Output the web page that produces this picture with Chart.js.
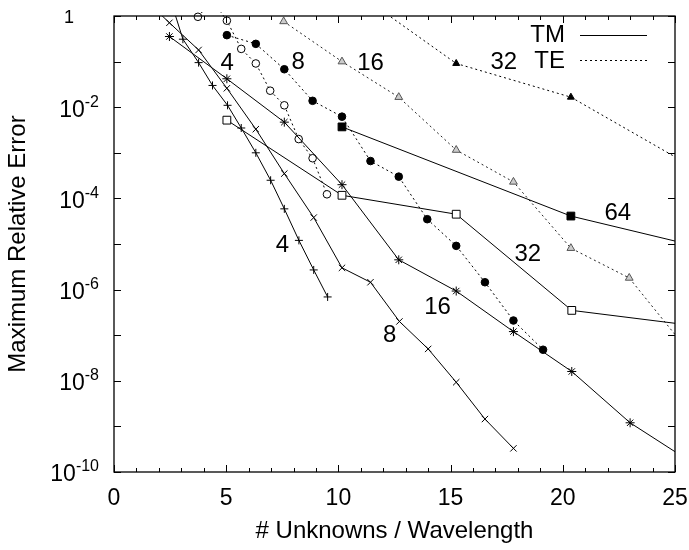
<!DOCTYPE html>
<html>
<head>
<meta charset="utf-8">
<title>Maximum relative error vs unknowns per wavelength</title>
<script src="https://cdn.jsdelivr.net/npm/chart.js@4.4.1/dist/chart.umd.min.js"></script>
<style>
  body { margin: 0; background: #fff; }
  #wrap { position: relative; width: 689px; height: 550px; }
</style>
</head>
<body>
<div id="wrap"><canvas id="chart"></canvas></div>
<script>
// TM curves (solid lines)
const tm4X = [2.44, 3.07, 3.77, 4.39, 5.06, 5.67, 6.32, 6.98, 7.59, 8.24, 8.90, 9.52];
const tm4Y = [3.0, 0.31, 0.095, 0.030, 0.011, 3.5e-3, 1.0e-3, 2.5e-4, 5.9e-5, 1.2e-5, 2.7e-6, 6.9e-7];

const tm8X = [1.20, 2.47, 3.77, 5.03, 6.32, 7.59, 8.90, 10.16, 11.43, 12.72, 14.00, 15.25, 16.53, 17.80];
const tm8Y = [2.8, 0.71, 0.18, 0.026, 3.3e-3, 3.5e-4, 3.8e-5, 3.0e-6, 1.45e-6, 2.0e-7, 5.0e-8, 9.3e-9, 1.45e-9, 3.3e-10];

const tm16X = [2.47, 5.03, 7.59, 10.16, 12.69, 15.25, 17.80, 20.40, 23.00, 25.60];
const tm16Y = [0.355, 0.042, 4.7e-3, 2.0e-4, 4.5e-6, 9.3e-7, 1.2e-7, 1.6e-8, 1.2e-9, 1.8e-10];

const tm32X = [5.03, 10.16, 15.25, 20.40, 25.50];
const tm32Y = [5.2e-3, 1.17e-4, 4.5e-5, 3.5e-7, 1.7e-7];

const tm64X = [10.16, 20.36, 30.50];
const tm64Y = [3.7e-3, 4.1e-5, 2.6e-6];

// TE curves (dotted lines)
const te4X = [3.74, 4.39, 5.03, 5.67, 6.32, 6.96, 7.59, 8.23, 8.85, 9.49];
const te4Y = [0.96, 2.2, 0.79, 0.19, 0.091, 0.023, 0.011, 2.0e-3, 7.6e-4, 1.23e-4];

const te8X = [5.03, 6.32, 7.59, 8.85, 10.16, 11.43, 12.69, 13.96, 15.25, 16.53, 17.80, 19.12];
const te8Y = [0.38, 0.245, 0.068, 0.0138, 6.2e-3, 6.6e-4, 3.0e-4, 3.5e-5, 9.1e-6, 1.45e-6, 2.1e-7, 4.8e-8];

const te16X = [7.56, 10.16, 12.69, 15.25, 17.80, 20.36, 22.96, 25.55];
const te16Y = [0.76, 0.10, 0.0166, 1.15e-3, 2.3e-4, 8.1e-6, 1.8e-6, 4.8e-8];

const te32X = [10.16, 15.25, 20.36, 25.50];
const te32Y = [5.5, 0.091, 0.0166, 5.9e-4];

// curve names written next to the curves
const curveNames = ['4', '8', '16', '32', '64', '32', '16', '8', '4'];
const curveNameX = [5.04, 8.21, 11.43, 17.37, 22.45, 18.44, 14.42, 12.28, 7.50];
const curveNameY = [0.093, 0.098, 0.093, 0.098, 4.8e-5, 6.0e-6, 4.0e-7, 1.0e-7, 9.5e-6];

const xTickStep = 5;
const yDecades = [0, -2, -4, -6, -8, -10];

const FONT = "'Liberation Sans', Arial, Helvetica, sans-serif";
Chart.defaults.font.family = FONT;
Chart.defaults.color = '#000';

function pts(xs, ys) {
    return xs.map((x, i) => ({ x: x, y: ys[i] }));
}

function series(xs, ys, opts) {
    return Object.assign({
        data: pts(xs, ys),
        borderColor: '#000',
        borderWidth: 1,
        pointBorderWidth: 1,
        pointBorderColor: '#000',
        pointBackgroundColor: '#000',
        pointRadius: 4,
        pointHoverRadius: 4,
        tension: 0,
        fill: false
    }, opts);
}

const DOT = [2, 3];

const datasets = [
    series(tm4X, tm4Y, { label: 'TM 4', pointStyle: 'cross', pointRadius: 4 }),
    series(tm8X, tm8Y, { label: 'TM 8', pointStyle: 'crossRot', pointRadius: 4.5 }),
    series(tm16X, tm16Y, { label: 'TM 16', pointStyle: 'star', pointRadius: 4.5 }),
    series(tm32X, tm32Y, { label: 'TM 32', pointStyle: 'rect', pointRadius: 5.5, pointBackgroundColor: '#fff' }),
    series(tm64X, tm64Y, { label: 'TM 64', pointStyle: 'rect', pointRadius: 5.5 }),
    series(te4X, te4Y, { label: 'TE 4', borderDash: DOT, pointStyle: 'circle', pointRadius: 3.8,
        pointBackgroundColor: '#fff', clip: { left: 0, top: 4, right: 0, bottom: 0 } }),
    series(te8X, te8Y, { label: 'TE 8', borderDash: DOT, pointStyle: 'circle', pointRadius: 3.8 }),
    series(te16X, te16Y, { label: 'TE 16', borderDash: DOT, borderColor: '#222', pointStyle: 'triangle',
        pointRadius: 4.5, pointBorderColor: '#555', pointBackgroundColor: '#ccc' }),
    series(te32X, te32Y, { label: 'TE 32', borderDash: DOT, pointStyle: 'triangle', pointRadius: 4 })
];

// frame, inward ticks, y labels with exponents, curve names and legend
const decorations = {
    id: 'decorations',
    afterDraw(chart) {
        const ctx = chart.ctx;
        const a = chart.chartArea;
        const xs = chart.scales.x;
        const ys = chart.scales.y;
        ctx.save();
        ctx.strokeStyle = '#000';
        ctx.fillStyle = '#000';
        ctx.setLineDash([]);

        // frame
        ctx.lineWidth = 1.3;
        ctx.strokeRect(a.left, a.top, a.right - a.left, a.bottom - a.top);

        // x ticks on bottom and top
        ctx.lineWidth = 1;
        ctx.beginPath();
        for (let v = xs.min; v <= xs.max; v++) {
            const px = Math.round(xs.getPixelForValue(v)) + 0.5;
            const len = v % xTickStep === 0 ? 7 : 4;
            ctx.moveTo(px, a.bottom);
            ctx.lineTo(px, a.bottom - len);
            ctx.moveTo(px, a.top);
            ctx.lineTo(px, a.top + len);
        }
        // y ticks on left and right, one per decade
        for (let k = 0; k >= -10; k--) {
            const py = Math.round(ys.getPixelForValue(Math.pow(10, k))) + 0.5;
            ctx.moveTo(a.left, py);
            ctx.lineTo(a.left + 7, py);
            ctx.moveTo(a.right, py);
            ctx.lineTo(a.right - 7, py);
        }
        ctx.stroke();

        // y tick labels
        ctx.textBaseline = 'middle';
        ctx.textAlign = 'right';
        yDecades.forEach(k => {
            const py = ys.getPixelForValue(Math.pow(10, k));
            if (k === 0) {
                ctx.font = '18px ' + FONT;
                ctx.fillText('1', 74, py + 2);
                return;
            }
            const exp = String(k);
            ctx.font = '16px ' + FONT;
            const ew = ctx.measureText(exp).width;
            ctx.fillText(exp, 99, py - 5);
            ctx.font = '23px ' + FONT;
            ctx.fillText('10', 99 - ew, py + 3);
        });

        // curve names
        ctx.textAlign = 'center';
        ctx.font = '24px ' + FONT;
        curveNames.forEach((name, i) => {
            ctx.fillText(name, xs.getPixelForValue(curveNameX[i]), ys.getPixelForValue(curveNameY[i]));
        });

        // legend
        ctx.textAlign = 'right';
        ctx.fillText('TM', 565, 35);
        ctx.fillText('TE', 565, 61);
        ctx.lineWidth = 1;
        ctx.beginPath();
        ctx.moveTo(580, 35.5);
        ctx.lineTo(647, 35.5);
        ctx.stroke();
        ctx.setLineDash(DOT);
        ctx.beginPath();
        ctx.moveTo(580, 60.5);
        ctx.lineTo(647, 60.5);
        ctx.stroke();
        ctx.restore();
    }
};

new Chart(document.getElementById('chart'), {
    type: 'line',
    data: { datasets: datasets },
    plugins: [decorations],
    options: {
        responsive: true,
        maintainAspectRatio: false,
        animation: false,
        layout: { padding: { top: 16, right: 14, left: 0, bottom: 0 } },
        plugins: {
            legend: { display: false },
            tooltip: { enabled: false }
        },
        scales: {
            x: {
                type: 'linear',
                min: 0,
                max: 25,
                grid: { display: false, drawTicks: false },
                border: { display: false },
                ticks: {
                    stepSize: xTickStep,
                    padding: 13,
                    maxRotation: 0,
                    font: { size: 23 },
                    color: '#000'
                },
                title: {
                    display: true,
                    text: '# Unknowns / Wavelength',
                    font: { size: 24 },
                    color: '#000',
                    padding: { top: 0, bottom: 4 }
                },
                afterFit(scale) {
                    scale.height = 78;
                    scale.paddingLeft = 0;
                    scale.paddingRight = 0;
                }
            },
            y: {
                type: 'logarithmic',
                min: 1e-10,
                max: 1,
                grid: { display: false, drawTicks: false },
                border: { display: false },
                ticks: { display: false },
                title: {
                    display: true,
                    text: 'Maximum Relative Error',
                    font: { size: 24 },
                    color: '#000',
                    padding: { top: 4, bottom: 0 }
                },
                afterFit(scale) {
                    scale.width = 114;
                    scale.paddingTop = 0;
                    scale.paddingBottom = 0;
                }
            }
        }
    }
});
</script>
</body>
</html>
